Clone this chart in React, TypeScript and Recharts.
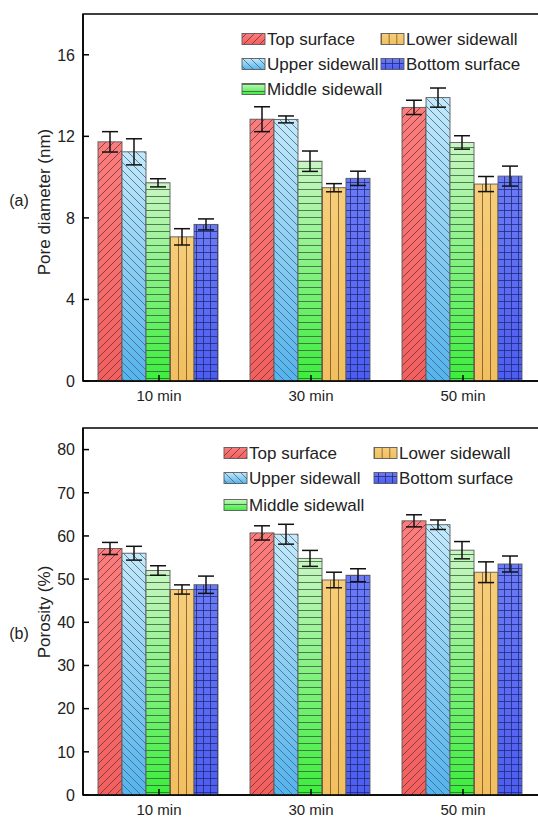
import { BarChart, Bar, XAxis, YAxis, ErrorBar, ReferenceArea } from 'recharts';

const times = ['10 min', '30 min', '50 min'];
const seriesNames = ['Top surface', 'Upper sidewall', 'Middle sidewall', 'Lower sidewall', 'Bottom surface'];

// (a) pore diameter, nm
const poreTop = [11.73, 12.84, 13.42];
const poreUpper = [11.24, 12.83, 13.9];
const poreMiddle = [9.72, 10.78, 11.7];
const poreLower = [7.07, 9.48, 9.66];
const poreBottom = [7.68, 9.94, 10.05];
const poreTopErr = [0.5, 0.61, 0.35];
const poreUpperErr = [0.64, 0.17, 0.47];
const poreMiddleErr = [0.2, 0.5, 0.33];
const poreLowerErr = [0.4, 0.2, 0.37];
const poreBottomErr = [0.27, 0.35, 0.49];
const poreTicks = [0, 4, 8, 12, 16];

// (b) porosity, %
const porTop = [57.1, 60.7, 63.5];
const porUpper = [56.0, 60.4, 62.6];
const porMiddle = [52.0, 54.8, 56.7];
const porLower = [47.6, 49.8, 51.6];
const porBottom = [48.7, 50.9, 53.5];
const porTopErr = [1.4, 1.65, 1.4];
const porUpperErr = [1.6, 2.3, 1.1];
const porMiddleErr = [1.1, 1.85, 2.0];
const porLowerErr = [1.07, 1.8, 2.4];
const porBottomErr = [2.0, 1.5, 1.85];
const porTicks = [0, 10, 20, 30, 40, 50, 60, 70, 80];

const FONT = '"Liberation Sans", Arial, Helvetica, sans-serif';
const gradTop = ['#fb7d7d', '#c4e9f9', '#c9f6c3', '#f7cd7a', '#6b7bf5'];
const gradBottom = ['#f25f5f', '#55b3ec', '#3ced3c', '#f2bf60', '#4d5df0'];
const hatch = ['#6e3434', '#3c6684', '#35603a', '#6e5526', '#202a7a'];

function buildRows(vals: number[][], errs: number[][]) {
  return times.map((t, i) => {
    const row: Record<string, string | number> = { time: t };
    vals.forEach((v, k) => {
      row['v' + k] = v[i];
      row['e' + k] = errs[k][i];
    });
    return row;
  });
}

const poreData = buildRows(
  [poreTop, poreUpper, poreMiddle, poreLower, poreBottom],
  [poreTopErr, poreUpperErr, poreMiddleErr, poreLowerErr, poreBottomErr]
);
const porData = buildRows(
  [porTop, porUpper, porMiddle, porLower, porBottom],
  [porTopErr, porUpperErr, porMiddleErr, porLowerErr, porBottomErr]
);

function Defs({ p }: { p: string }) {
  return (
    <defs>
      {gradTop.map((c, k) => (
        <linearGradient key={'g' + k} id={`${p}grad${k}`} x1="0" y1="0" x2="0" y2="1">
          <stop offset="0%" stopColor={c} />
          <stop offset="100%" stopColor={gradBottom[k]} />
        </linearGradient>
      ))}
      <pattern id={`${p}pat0`} width="8" height="8" patternUnits="userSpaceOnUse">
        <path d="M0,8 L8,0 M-2,2 L2,-2 M6,10 L10,6" stroke={hatch[0]} strokeWidth={0.8} />
      </pattern>
      <pattern id={`${p}pat1`} width="8" height="8" patternUnits="userSpaceOnUse">
        <path d="M0,0 L8,8 M-2,6 L2,10 M6,-2 L10,2" stroke={hatch[1]} strokeWidth={0.8} />
      </pattern>
      <pattern id={`${p}pat2`} width="8" height="7" patternUnits="userSpaceOnUse">
        <path d="M0,0.5 H8" stroke={hatch[2]} strokeWidth={0.8} />
      </pattern>
      <pattern id={`${p}pat3`} x="0" y="0" width="0.3333" height="1" patternUnits="objectBoundingBox">
        <path d="M0.5,0 V2000" stroke={hatch[3]} strokeWidth={0.8} />
      </pattern>
      <pattern id={`${p}pat4`} width="7" height="7" patternUnits="userSpaceOnUse">
        <path d="M0.5,0 V7 M0,0.5 H7" stroke={hatch[4]} strokeWidth={0.8} />
      </pattern>
    </defs>
  );
}

const makeShape = (p: string, k: number) => (props: any) => {
  const { x, y, width, height } = props;
  if (!height || height <= 0) return <g />;
  return (
    <g>
      <rect x={x} y={y} width={width} height={height} fill={`url(#${p}grad${k})`} />
      <rect x={x} y={y} width={width} height={height} fill={`url(#${p}pat${k})`} />
      <rect x={x} y={y} width={width} height={height} fill="none" stroke="#5a5a5a" strokeWidth={0.9} />
    </g>
  );
};

function YTick(props: any) {
  const { x, y, payload } = props;
  return (
    <g>
      <line x1={x + 8} x2={x + 14} y1={y} y2={y} stroke="#000" strokeWidth={1.5} />
      <text x={x} y={y} dy="0.36em" textAnchor="end" fontSize={16} fill="#222" fontFamily={FONT}>
        {payload.value}
      </text>
    </g>
  );
}

function XTick(props: any) {
  const { x, y, payload } = props;
  return (
    <g>
      <line x1={x} x2={x} y1={y - 6} y2={y - 12} stroke="#000" strokeWidth={1.5} />
      <text x={x} y={y} dy={13.5} textAnchor="middle" fontSize={15} fill="#222" fontFamily={FONT}>
        {payload.value}
      </text>
    </g>
  );
}

function Panel({ p, data, max, ticks }: { p: string; data: any[]; max: number; ticks: number[] }) {
  return (
    <BarChart
      width={540}
      height={420}
      data={data}
      margin={{ top: 14, right: 1, left: 0, bottom: 0 }}
      barCategoryGap={15}
      barGap={0}
    >
      <Defs p={p} />
      <XAxis
        dataKey="time"
        height={39}
        tickSize={0}
        tickMargin={6}
        tickLine={false}
        axisLine={{ stroke: '#000', strokeWidth: 1.5 }}
        tick={<XTick />}
      />
      <YAxis
        type="number"
        domain={[0, max]}
        ticks={ticks}
        width={83}
        tickSize={0}
        tickMargin={8}
        tickLine={false}
        axisLine={{ stroke: '#000', strokeWidth: 1.5 }}
        tick={<YTick />}
      />
      {seriesNames.map((name, k) => (
        <Bar key={name} dataKey={'v' + k} name={name} shape={makeShape(p, k)} isAnimationActive={false}>
          <ErrorBar dataKey={'e' + k} width={8} stroke="#111" strokeWidth={1.5} isAnimationActive={false} />
        </Bar>
      ))}
      <ReferenceArea y1={0} y2={max} fill="none" fillOpacity={0} stroke="#000" strokeWidth={1.5} />
    </BarChart>
  );
}

function LegendBlock({ p, x1, x2, rows, sw }: { p: string; x1: number; x2: number; rows: number[]; sw: number }) {
  const slots = [
    [x1, rows[0]],
    [x1, rows[1]],
    [x1, rows[2]],
    [x2, rows[0]],
    [x2, rows[1]],
  ];
  return (
    <g>
      {seriesNames.map((name, k) => {
        const [sx, sy] = slots[k];
        return (
          <g key={name}>
            <rect x={sx} y={sy - 5.5} width={sw} height={11} fill={`url(#${p}grad${k})`} />
            <rect x={sx} y={sy - 5.5} width={sw} height={11} fill={`url(#${p}pat${k})`} />
            <rect x={sx} y={sy - 5.5} width={sw} height={11} fill="none" stroke="#5a5a5a" strokeWidth={0.9} />
            <text x={sx + sw + 2} y={sy} dy="0.36em" fontSize={17} fill="#222" fontFamily={FONT}>
              {name}
            </text>
          </g>
        );
      })}
    </g>
  );
}

export default function App() {
  return (
    <div style={{ position: 'absolute', left: 0, top: 0, width: 538, height: 817, overflow: 'hidden', background: '#fff' }}>
      <div style={{ position: 'absolute', left: 0, top: 0 }}>
        <Panel p="a" data={poreData} max={18} ticks={poreTicks} />
      </div>
      <div style={{ position: 'absolute', left: 0, top: 414 }}>
        <Panel p="b" data={porData} max={85} ticks={porTicks} />
      </div>
      <svg width={538} height={817} style={{ position: 'absolute', left: 0, top: 0, pointerEvents: 'none' }}>
        <Defs p="l" />
        <LegendBlock p="l" x1={242} x2={381} rows={[39, 64, 89]} sw={23} />
        <LegendBlock p="l" x1={224} x2={374} rows={[453, 478, 505]} sw={23} />
        <text x={19} y={200} dy="0.36em" textAnchor="middle" fontSize={16} fill="#222" fontFamily={FONT}>(a)</text>
        <text transform="translate(44,202) rotate(-90)" dy="0.36em" textAnchor="middle" fontSize={17} fill="#222" fontFamily={FONT}>
          Pore diameter (nm)
        </text>
        <text x={19} y={633} dy="0.36em" textAnchor="middle" fontSize={16} fill="#222" fontFamily={FONT}>(b)</text>
        <text transform="translate(44,612) rotate(-90)" dy="0.36em" textAnchor="middle" fontSize={17} fill="#222" fontFamily={FONT}>
          Porosity (%)
        </text>
      </svg>
    </div>
  );
}
